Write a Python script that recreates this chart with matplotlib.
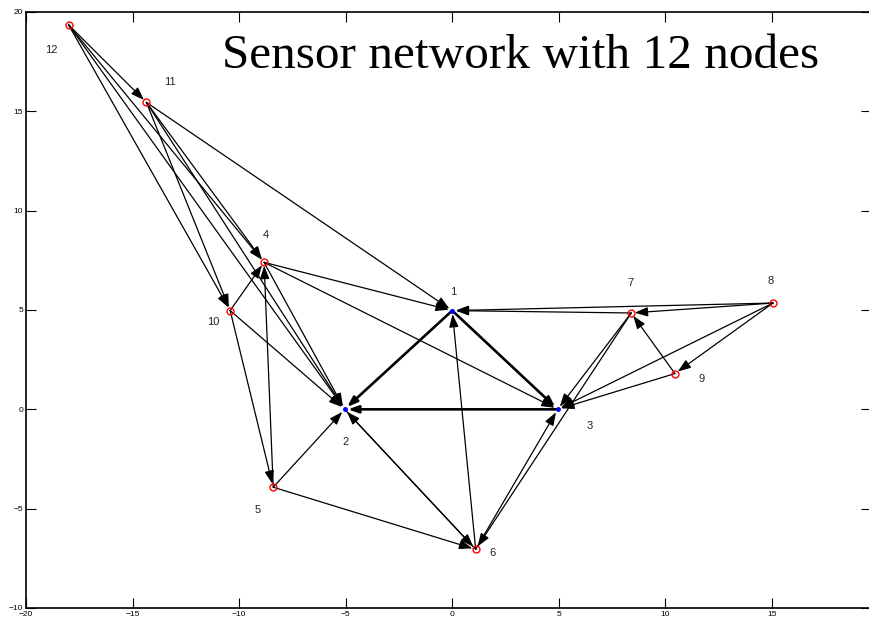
import matplotlib
matplotlib.use('Agg')
import matplotlib.pyplot as plt

# Node data (node i+1)
node_x = [0.0, -5.05, 4.95, -8.83, -8.4, 1.1, 8.4, 15.05, 10.45, -10.42, -14.35, -18.0]
node_y = [4.97, 0.0, 0.0, 7.4, -3.92, -7.05, 4.85, 5.35, 1.8, 4.97, 15.45, 19.35]
node_labels = ['1', '2', '3', '4', '5', '6', '7', '8', '9', '10', '11', '12']
label_x = [0.05, -5.02, 6.43, -8.73, -9.15, 1.88, 8.36, 14.93, 11.69, -11.22, -13.24, -18.79]
label_y = [5.91, -1.64, -0.84, 8.78, -5.06, -7.23, 6.36, 6.46, 1.53, 4.40, 16.48, 18.09]
anchor_nodes = [1, 2, 3]  # drawn as blue dots

# Directed thin edges (source, target), 1-indexed
thin_edges = [
    (12, 11), (12, 4), (12, 10), (12, 2),
    (11, 4), (11, 10), (11, 2), (11, 1),
    (10, 4), (10, 2), (10, 5),
    (4, 1), (4, 3), (4, 2),
    (5, 4), (5, 2), (5, 6),
    (2, 6), (6, 2), (6, 1), (6, 3),
    (7, 6), (7, 3), (7, 1),
    (8, 1), (8, 7), (8, 9), (8, 3),
    (9, 7), (9, 3),
]
# Thick edges between anchors
thick_edges = [(1, 3), (3, 2), (1, 2)]

title_text = 'Sensor network with 12 nodes'

fig = plt.figure(figsize=(8.69, 6.28), dpi=100)
ax = fig.add_axes([26 / 869, 20 / 628, 845 / 869, 596 / 628])
ax.set_xlim(-20, 19.65)
ax.set_ylim(-10, 20)


def draw_edge(s, t, lw, ms):
    ax.annotate('', xy=(node_x[t - 1], node_y[t - 1]),
                xytext=(node_x[s - 1], node_y[s - 1]),
                arrowprops=dict(arrowstyle='-|>,head_length=0.75,head_width=0.27',
                                color='black', lw=lw, shrinkA=0, shrinkB=2.5,
                                mutation_scale=ms),
                zorder=2)


for s, t in thin_edges:
    draw_edge(s, t, 0.9, 10.5)
for s, t in thick_edges:
    draw_edge(s, t, 1.9, 8)

for i in range(len(node_x)):
    if (i + 1) in anchor_nodes:
        ax.plot(node_x[i], node_y[i], 'o', color='blue', markersize=2.5, zorder=4)
    else:
        ax.plot(node_x[i], node_y[i], 'o', markerfacecolor='none',
                markeredgecolor='red', markersize=5, markeredgewidth=1.0, zorder=4)
    ax.text(label_x[i], label_y[i], node_labels[i], ha='center', va='center',
            fontsize=8, family=['Liberation Sans', 'DejaVu Sans'], color='#222222')

ax.text(-10.8, 17.2, title_text, ha='left', va='baseline', fontsize=35.5,
        family=['Liberation Serif', 'DejaVu Serif'])

ax.set_xticks([-20, -15, -10, -5, 0, 5, 10, 15])
ax.set_yticks([-10, -5, 0, 5, 10, 15, 20])
ax.tick_params(direction='in', length=7, width=0.8, top=True, right=True,
               labelsize=6, pad=2)
for lab in ax.get_xticklabels() + ax.get_yticklabels():
    lab.set_family(['Liberation Sans', 'DejaVu Sans'])
for sp in ax.spines.values():
    sp.set_linewidth(1.2)

fig.savefig('out.png', dpi=100)
